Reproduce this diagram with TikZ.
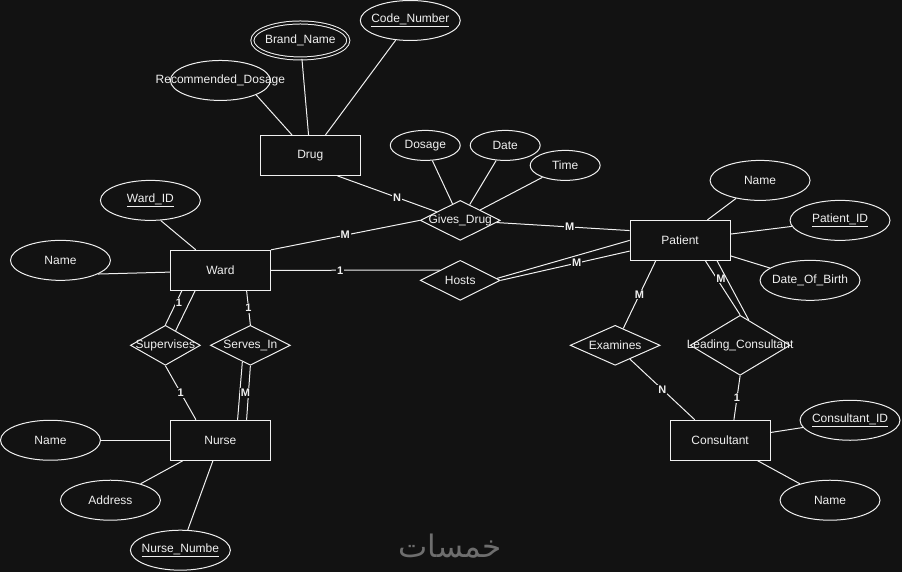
\documentclass[tikz,border=0pt]{standalone}
\usepackage{fontspec}
\setmainfont{Liberation Sans}
\newfontfamily\arabicfont[Script=Arabic]{DejaVu Sans}
\TeXXeTstate=1
\usetikzlibrary{shapes.geometric}
\definecolor{bg}{RGB}{18,18,18}
\definecolor{fg}{RGB}{240,240,240}
\definecolor{markgray}{RGB}{110,110,110}

\begin{document}
\begin{tikzpicture}[x=1pt,y=-1pt,font=\fontsize{12}{14}\selectfont,line width=1pt,color=fg]
    \tikzstyle{entity node}=[rectangle,draw=fg,fill=bg,minimum width=100pt,minimum height=40pt,inner sep=0]
    \tikzstyle{attr node}=[ellipse,draw=fg,fill=bg,minimum width=100pt,minimum height=40pt,inner sep=0]
    \tikzstyle{small attr}=[attr node,minimum width=70pt,minimum height=30pt]
    \tikzstyle{rel node}=[diamond,draw=fg,fill=bg,inner sep=0]
    \tikzstyle{card}=[fill=bg,inner sep=1pt,font=\fontsize{11}{13}\selectfont\bfseries]

    \fill[bg] (0,0) rectangle (902,572);

    \node[entity node] (drug) at (310,155) {Drug};
    \node[entity node] (ward) at (220,270) {Ward};
    \node[entity node] (patient) at (680,240) {Patient};
    \node[entity node] (nurse) at (220,440) {Nurse};
    \node[entity node] (consultant) at (720,440) {Consultant};

    \node[rel node,minimum width=80pt,minimum height=40pt,label=center:{Gives\_Drug}] (givesdrug) at (460,220) {};
    \node[rel node,minimum width=80pt,minimum height=40pt,label=center:{Hosts}] (hosts) at (460,280) {};
    \node[rel node,minimum width=70pt,minimum height=40pt,label=center:{Supervises}] (supervises) at (165,345) {};
    \node[rel node,minimum width=80pt,minimum height=40pt,label=center:{Serves\_In}] (servesin) at (250,345) {};
    \node[rel node,minimum width=90pt,minimum height=40pt,label=center:{Examines}] (examines) at (615,345) {};
    \node[rel node,minimum width=100pt,minimum height=60pt,label=center:{Leading\_Consultant}] (leadcons) at (740,345) {};

    \node[attr node,label=center:{Recommended\_Dosage}] (recdosage) at (220,80) {};
    \node[attr node,double=bg,double distance=2pt,minimum width=96pt,minimum height=36pt,label=center:{Brand\_Name}] (brandname) at (300,40) {};
    \node[attr node,label=center:{\underline{Code\_Number}}] (codenumber) at (410,20) {};
    \node[small attr,label=center:{Dosage}] (dosage) at (425,145) {};
    \node[small attr,label=center:{Date}] (date) at (505,145) {};
    \node[small attr,label=center:{Time}] (time) at (565,165) {};
    \node[attr node,label=center:{\underline{Ward\_ID}}] (wardid) at (150,200) {};
    \node[attr node,label=center:{Name}] (wardname) at (60,260) {};
    \node[attr node,label=center:{Name}] (patname) at (760,180) {};
    \node[attr node,label=center:{\underline{Patient\_ID}}] (patientid) at (840,220) {};
    \node[attr node,label=center:{Date\_Of\_Birth}] (dob) at (810,280) {};
    \node[attr node,label=center:{\underline{Consultant\_ID}}] (consid) at (850,420) {};
    \node[attr node,label=center:{Name}] (consname) at (830,500) {};
    \node[attr node,label=center:{Name}] (nursename) at (50,440) {};
    \node[attr node,label=center:{Address}] (address) at (110,500) {};
    \node[attr node,label=center:{\underline{Nurse\_Numbe}}] (nursenumber) at (180,550) {};

    \draw (recdosage.-22) -- (drug);
    \draw (brandname) -- (drug);
    \draw (codenumber) -- (drug);
    \draw (drug.-37) -- (givesdrug) node[card,pos=0.6]{N};
    \draw (dosage) -- (givesdrug);
    \draw (date) -- (givesdrug);
    \draw (time) -- (givesdrug);
    \draw (ward.north east) -- (givesdrug.west) node[card,midway]{M};
    \draw (givesdrug) -- (patient.169) node[card,pos=0.55]{M};

    \draw (ward.east) -- (hosts.153) node[card,pos=0.41]{1};
    \draw (hosts.3) -- (patient.west);
    \draw (hosts.east) -- (patient.192) node[card,pos=0.59]{M};

    \draw (wardname.-20) -- (ward.182);
    \draw (wardid.-63) -- (ward);
    \draw (ward.208) -- (supervises.north) node[card,pos=0.36,xshift=3pt]{1};
    \draw (ward.219) -- (supervises.55);
    \draw (supervises.south) -- (nurse.140) node[card,midway]{1};
    \draw (ward.-38) -- (servesin.north) node[card,midway]{1};
    \draw (servesin.244) -- (nurse.50);
    \draw (servesin.south) -- (nurse.38) node[card,midway,xshift=-3pt]{M};

    \draw (patient) -- (patname);
    \draw (patient) -- (patientid);
    \draw (patient) -- (dob);
    \draw (patient.220) -- (examines) node[card,midway]{M};
    \draw (patient.-39) -- (leadcons.north) node[card,pos=0.33,xshift=4pt]{M};
    \draw (patient.-29) -- (leadcons.71);
    \draw (examines) -- (consultant.141) node[card,midway]{N};
    \draw (leadcons.south) -- (consultant.56) node[card,midway]{1};
    \draw (consultant) -- (consid);
    \draw (consultant) -- (consname);

    \draw (nursename) -- (nurse);
    \draw (address) -- (nurse);
    \draw (nursenumber) -- (nurse);

    \node[text=markgray,font=\arabicfont\fontsize{31}{33}\selectfont] (watermark) at (450,546) {\beginR خمسات\endR};
\end{tikzpicture}
\end{document}
